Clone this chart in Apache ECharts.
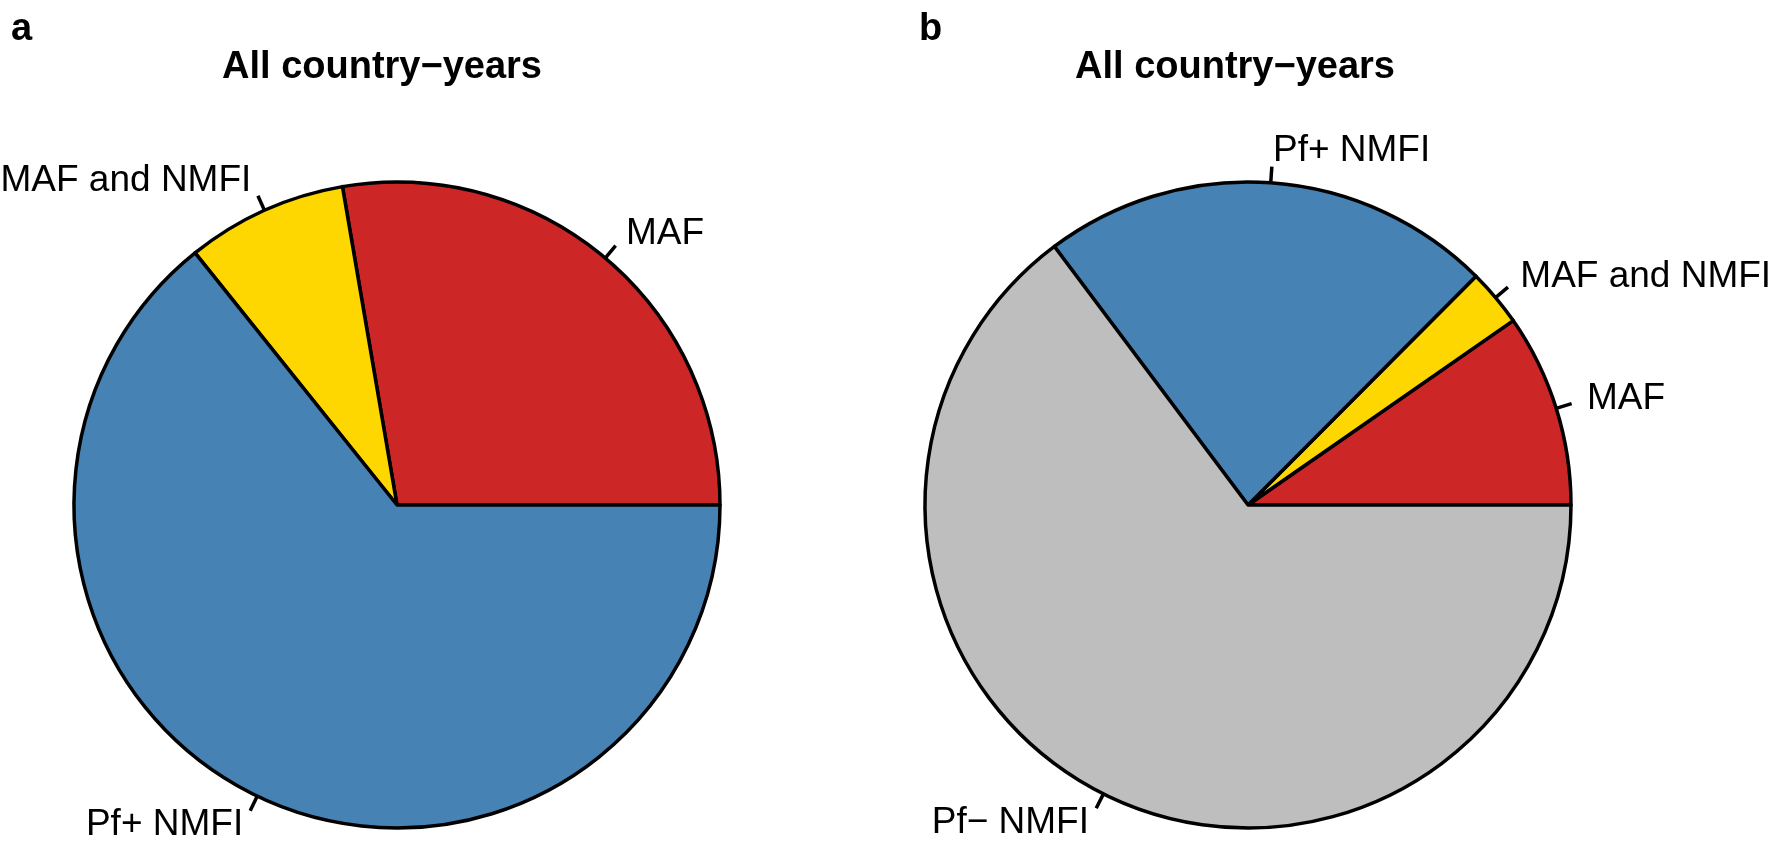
<!DOCTYPE html>
<html>
<head>
<meta charset="utf-8">
<script src="https://cdn.jsdelivr.net/npm/echarts@6/dist/echarts.min.js"></script>
<style>
html,body{margin:0;padding:0;background:#fff;}
#chart{width:1773px;height:853px;}
</style>
</head>
<body>
<div id="chart"></div>
<script>
// Panel a
const catsA = ['MAF', 'MAF and NMFI', 'Pf+ NMFI'];
const valsA = [27.7, 8.05, 64.25];
const colorsA = ['#CD2626', '#FFD700', '#4682B4'];
// Panel b
const catsB = ['MAF', 'MAF and NMFI', 'Pf+ NMFI', 'Pf\u2212 NMFI'];
const valsB = [9.67, 2.86, 22.7, 64.77];
const colorsB = ['#CD2626', '#FFD700', '#4682B4', '#BEBEBE'];
const panelTitle = 'All country\u2212years';
const panelLetters = ['a', 'b'];

const FONT = '"Liberation Sans", Arial, Helvetica, sans-serif';
const R = 323;

function rLabelLayout(params) {
  const p = params.labelLinePoints;
  if (!p) return {};
  const dx = p[1][0] - p[0][0];
  const dy = p[1][1] - p[0][1];
  return {
    x: p[0][0] + 2 * dx,
    y: p[0][1] + 2 * dy,
    align: dx < 0 ? 'right' : 'left',
    verticalAlign: 'middle',
    labelLinePoints: [p[0], p[1]]
  };
}

function pieSeries(cats, vals, colors, center) {
  return {
    type: 'pie',
    center: center,
    radius: [0, R],
    startAngle: 0,
    clockwise: false,
    avoidLabelOverlap: false,
    animation: false,
    silent: true,
    itemStyle: { borderColor: '#000', borderWidth: 3.5 },
    label: {
      show: true,
      position: 'outside',
      color: '#000',
      fontFamily: FONT,
      fontSize: 37,
      formatter: '{b}'
    },
    labelLine: {
      show: true,
      length: R * 0.05,
      length2: 0,
      smooth: false,
      lineStyle: { color: '#000', width: 3.5 }
    },
    labelLayout: rLabelLayout,
    emphasis: { disabled: true },
    data: cats.map((c, i) => ({ name: c, value: vals[i], itemStyle: { color: colors[i] } }))
  };
}

const chart = echarts.init(document.getElementById('chart'), null, { renderer: 'canvas' });
chart.setOption({
  backgroundColor: '#fff',
  animation: false,
  title: [
    { text: panelLetters[0], left: 6, top: 6, textStyle: { fontFamily: FONT, fontSize: 38, fontWeight: 'bold', color: '#000' } },
    { text: panelLetters[1], left: 914, top: 6, textStyle: { fontFamily: FONT, fontSize: 38, fontWeight: 'bold', color: '#000' } },
    { text: panelTitle, left: 377, top: 44, textAlign: 'center', textStyle: { fontFamily: FONT, fontSize: 38, fontWeight: 'bold', color: '#000' } },
    { text: panelTitle, left: 1230, top: 44, textAlign: 'center', textStyle: { fontFamily: FONT, fontSize: 38, fontWeight: 'bold', color: '#000' } }
  ],
  series: [
    pieSeries(catsA, valsA, colorsA, [397, 505]),
    pieSeries(catsB, valsB, colorsB, [1248, 505])
  ]
});
</script>
</body>
</html>
